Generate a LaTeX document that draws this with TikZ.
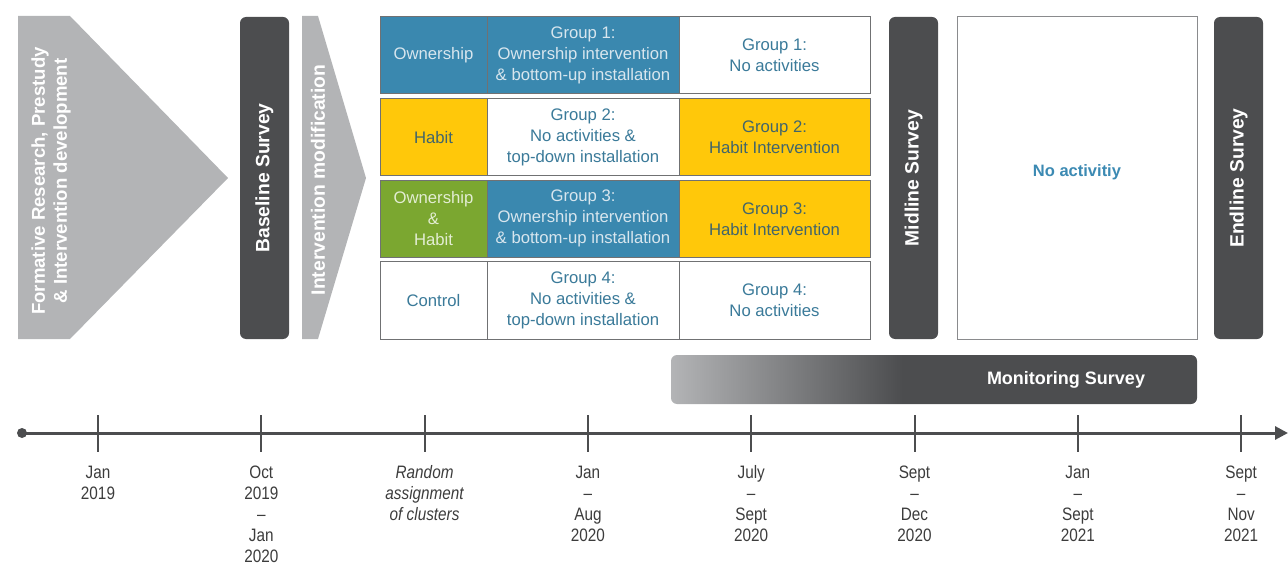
\documentclass[tikz,border=0pt]{standalone}
\usepackage{fontspec}
\setmainfont{Liberation Sans}
\newfontfamily\condfont[FakeStretch=0.85]{Liberation Sans}
\usetikzlibrary{arrows.meta}
\definecolor{lgray}{HTML}{B3B4B6}
\definecolor{dgray}{HTML}{4C4D4F}
\definecolor{oblue}{HTML}{3A88AF}
\definecolor{hyellow}{HTML}{FFC80A}
\definecolor{ogreen}{HTML}{7BA730}
\definecolor{cellline}{HTML}{707173}
\definecolor{txtblue}{HTML}{3A7A99}
\definecolor{txtlight}{HTML}{D8E6EE}
\definecolor{txtgreen}{HTML}{E3EDD3}
\definecolor{txtyellow}{HTML}{41656B}
\definecolor{tltext}{HTML}{3C3C3C}
\definecolor{boxline}{HTML}{8A8B8D}
\definecolor{noact}{HTML}{3C8AB3}
\pgfdeclarehorizontalshading{monshade}{100bp}{color(0bp)=(lgray); color(25bp)=(lgray); color(47bp)=(dgray); color(100bp)=(dgray)}
\begin{document}
\begin{tikzpicture}[x=1pt,y=-1pt,
  vlabel/.style={rotate=90, align=center, text=white, inner sep=0,
    font=\bfseries\fontsize{19.3}{22}\selectfont},
  survey/.style={fill=dgray, rounded corners=6pt, anchor=north west,
    minimum width=49pt, minimum height=322pt, inner sep=0, outer sep=0},
  cell/.style={draw=cellline, line width=1pt, anchor=north west,
    minimum height=77pt, inner sep=0, outer sep=0, align=center,
    font=\fontsize{16.7}{21}\selectfont},
  ca/.style={cell, minimum width=107pt},
  cb/.style={cell, minimum width=192pt},
  cc/.style={cell, minimum width=191pt},
  isblue/.style={fill=oblue, text=txtlight},
  isyellow/.style={fill=hyellow, text=txtyellow},
  isgreen/.style={fill=ogreen, text=txtgreen},
  iswhite/.style={fill=white, text=txtblue},
  tick/.style={draw=dgray, line width=2pt},
  tl/.style={anchor=north, align=center, inner sep=0, text=tltext,
    font=\condfont\fontsize{18}{21}\selectfont},
]
\useasboundingbox (0,0) rectangle (1288,564);

% left phase arrows
\fill[lgray] (18,16) -- (70,16) -- (228,178) -- (70,339) -- (18,339) -- cycle;
\node[vlabel, font=\bfseries\fontsize{18.6}{22}\selectfont] (form) at (51,181) {Formative Research, Prestudy\\\& Intervention development};

\node[survey] (base) at (240,17) {};
\node[vlabel] (basetxt) at (base.center) {Baseline Survey};

\fill[lgray] (302,16) -- (318,16) -- (366,178) -- (318,339) -- (302,339) -- cycle;
\node[vlabel] (modtxt) at (318,180) {Intervention modification};

% grid
\node[ca, isblue]   (r1a) at (380,17) {Ownership};
\node[cb, isblue]   (r1b) at (487,17) {Group 1:\\Ownership intervention\\\& bottom-up installation};
\node[cc, iswhite]  (r1c) at (679,17) {Group 1:\\No activities};

\node[ca, isyellow] (r2a) at (380,98.7) {Habit};
\node[cb, iswhite]  (r2b) at (487,98.7) {Group 2:\\No activities \&\\top-down installation};
\node[cc, isyellow] (r2c) at (679,98.7) {Group 2:\\Habit Intervention};

\node[ca, isgreen]  (r3a) at (380,180.3) {Ownership\\\&\\Habit};
\node[cb, isblue]   (r3b) at (487,180.3) {Group 3:\\Ownership intervention\\\& bottom-up installation};
\node[cc, isyellow] (r3c) at (679,180.3) {Group 3:\\Habit Intervention};

\node[ca, iswhite]  (r4a) at (380,262) {Control};
\node[cb, iswhite]  (r4b) at (487,262) {Group 4:\\No activities \&\\top-down installation};
\node[cc, iswhite]  (r4c) at (679,262) {Group 4:\\No activities};

% right side
\node[survey] (mid) at (889,17) {};
\node[vlabel] (midtxt) at (mid.center) {Midline Survey};

\node[draw=boxline, line width=1pt, fill=white, anchor=north west, minimum width=240pt,
  minimum height=322pt, inner sep=0, outer sep=0] (noact) at (957,17) {};
\node[text=noact, font=\bfseries\fontsize{16.5}{20}\selectfont] (noacttxt) at (1077,172) {No activitiy};

\node[survey] (end) at (1214,17) {};
\node[vlabel] (endtxt) at (end.center) {Endline Survey};

% monitoring bar
\shade[shading=monshade, rounded corners=6pt] (671,355) rectangle (1197,404);
\node[text=white, font=\bfseries\fontsize{18}{22}\selectfont] (mon) at (1066,380) {Monitoring Survey};

% timeline
\coordinate (tstart) at (22,433);
\coordinate (tend) at (1288,433);
\draw[dgray, line width=3pt, -{Triangle[length=13pt,width=13pt]}] (tstart) -- (tend);
\fill[dgray] (tstart) circle (5pt);

\foreach \i in {0,...,7} {
  \draw[tick] ({98+163.3*\i},415) -- ({98+163.3*\i},452);
}
\node[tl] (l0) at (98,465.5) {Jan\\2019};
\node[tl] (l1) at (261.3,465.5) {Oct\\2019\\–\\Jan\\2020};
\node[tl, font=\condfont\itshape\fontsize{18}{21}\selectfont] (l2) at (424.6,465.5) {Random\\assignment\\of clusters};
\node[tl] (l3) at (587.9,465.5) {Jan\\–\\Aug\\2020};
\node[tl] (l4) at (751.2,465.5) {July\\–\\Sept\\2020};
\node[tl] (l5) at (914.5,465.5) {Sept\\–\\Dec\\2020};
\node[tl] (l6) at (1077.8,465.5) {Jan\\–\\Sept\\2021};
\node[tl] (l7) at (1241.1,465.5) {Sept\\–\\Nov\\2021};
\end{tikzpicture}
\end{document}
